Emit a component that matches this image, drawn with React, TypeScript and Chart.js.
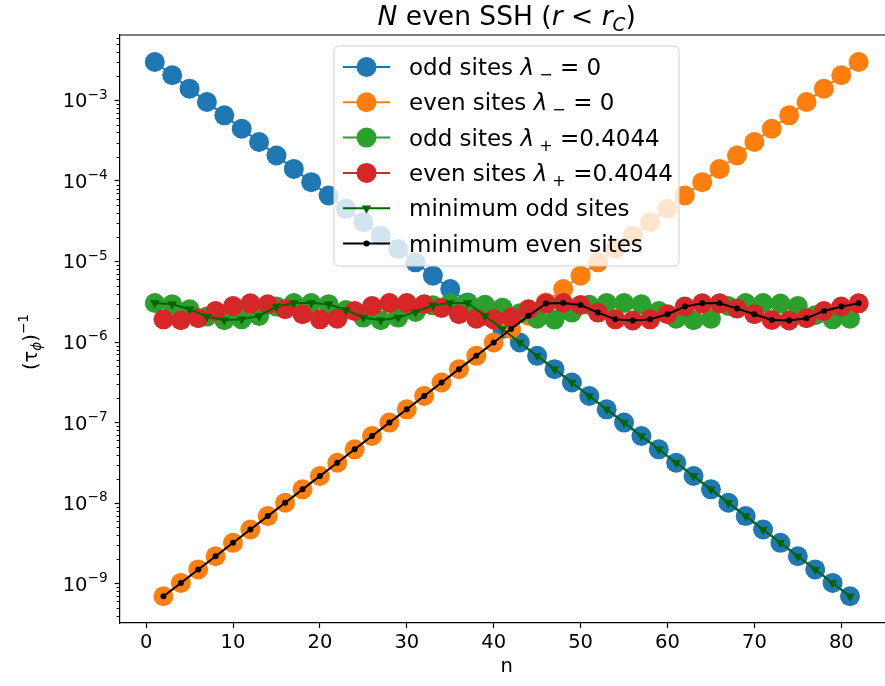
import React, { useEffect, useRef } from "react";
import { Chart, registerables } from "chart.js";
Chart.register(...registerables);

const oddSites = [1, 3, 5, 7, 9, 11, 13, 15, 17, 19, 21, 23, 25, 27, 29, 31, 33, 35, 37, 39, 41, 43, 45, 47, 49, 51, 53, 55, 57, 59, 61, 63, 65, 67, 69, 71, 73, 75, 77, 79, 81];
const evenSites = [2, 4, 6, 8, 10, 12, 14, 16, 18, 20, 22, 24, 26, 28, 30, 32, 34, 36, 38, 40, 42, 44, 46, 48, 50, 52, 54, 56, 58, 60, 62, 64, 66, 68, 70, 72, 74, 76, 78, 80, 82];

const oddLambdaMinus = [3.0e-3, 2.05e-3, 1.40e-3, 9.55e-4, 6.52e-4, 4.45e-4, 3.04e-4, 2.07e-4, 1.41e-4, 9.65e-5, 6.59e-5, 4.50e-5, 3.07e-5, 2.09e-5, 1.43e-5, 9.76e-6, 6.66e-6, 4.55e-6, 3.10e-6, 2.12e-6, 1.45e-6, 9.87e-7, 6.73e-7, 4.60e-7, 3.14e-7, 2.14e-7, 1.46e-7, 9.98e-8, 6.81e-8, 4.65e-8, 3.17e-8, 2.17e-8, 1.48e-8, 1.01e-8, 6.89e-9, 4.70e-9, 3.21e-9, 2.19e-9, 1.50e-9, 1.02e-9, 6.97e-10];
const evenLambdaMinus = [6.97e-10, 1.02e-9, 1.50e-9, 2.19e-9, 3.21e-9, 4.70e-9, 6.89e-9, 1.01e-8, 1.48e-8, 2.17e-8, 3.17e-8, 4.65e-8, 6.81e-8, 9.98e-8, 1.46e-7, 2.14e-7, 3.14e-7, 4.60e-7, 6.73e-7, 9.87e-7, 1.45e-6, 2.12e-6, 3.10e-6, 4.55e-6, 6.66e-6, 9.76e-6, 1.43e-5, 2.09e-5, 3.07e-5, 4.50e-5, 6.59e-5, 9.65e-5, 1.41e-4, 2.07e-4, 3.04e-4, 4.45e-4, 6.52e-4, 9.55e-4, 1.40e-3, 2.05e-3, 3.0e-3];
const oddLambdaPlus = [3.05e-6, 2.94e-6, 2.55e-6, 2.07e-6, 1.86e-6, 1.91e-6, 2.11e-6, 2.75e-6, 3.05e-6, 3.05e-6, 2.95e-6, 2.50e-6, 2.01e-6, 1.86e-6, 2.01e-6, 2.36e-6, 2.85e-6, 3.05e-6, 3.05e-6, 2.90e-6, 2.67e-6, 2.27e-6, 1.95e-6, 1.90e-6, 2.32e-6, 2.90e-6, 3.05e-6, 3.05e-6, 2.94e-6, 2.43e-6, 1.95e-6, 1.86e-6, 1.95e-6, 2.80e-6, 3.05e-6, 3.05e-6, 3.00e-6, 2.80e-6, 2.15e-6, 1.91e-6, 1.95e-6];
const evenLambdaPlus = [1.91e-6, 1.86e-6, 1.97e-6, 2.43e-6, 2.80e-6, 3.02e-6, 2.94e-6, 2.55e-6, 2.21e-6, 1.91e-6, 1.95e-6, 2.43e-6, 2.80e-6, 3.05e-6, 3.05e-6, 2.94e-6, 2.65e-6, 2.21e-6, 1.95e-6, 1.91e-6, 2.01e-6, 2.55e-6, 3.00e-6, 3.05e-6, 2.88e-6, 2.32e-6, 1.91e-6, 1.85e-6, 1.91e-6, 2.21e-6, 2.75e-6, 3.02e-6, 3.02e-6, 2.60e-6, 2.21e-6, 1.88e-6, 1.85e-6, 1.97e-6, 2.43e-6, 2.75e-6, 3.02e-6];

const xTicks = [0, 10, 20, 30, 40, 50, 60, 70, 80];
const yTickExponents = [-9, -8, -7, -6, -5, -4, -3];

type Seg = { t: string; it?: boolean; sub?: boolean; sup?: boolean };

const legendTexts: Seg[][] = [
  [{ t: "odd sites " }, { t: "λ", it: true }, { t: " −", sub: true }, { t: " = 0" }],
  [{ t: "even sites " }, { t: "λ", it: true }, { t: " −", sub: true }, { t: " = 0" }],
  [{ t: "odd sites " }, { t: "λ", it: true }, { t: " +", sub: true }, { t: " =0.4044" }],
  [{ t: "even sites " }, { t: "λ", it: true }, { t: " +", sub: true }, { t: " =0.4044" }],
  [{ t: "minimum odd sites" }],
  [{ t: "minimum even sites" }],
];
const titleSegs: Seg[] = [
  { t: "N", it: true }, { t: " even SSH (" }, { t: "r", it: true }, { t: " < " }, { t: "r", it: true }, { t: "C", it: true, sub: true }, { t: ")" },
];
const yLabelSegs: Seg[] = [{ t: "(τ" }, { t: "ϕ", it: true, sub: true }, { t: ")" }, { t: "−1", sup: true }];

const FONT = '"DejaVu Sans"';

function fontFor(s: Seg, size: number) {
  const sz = s.sub || s.sup ? size * 0.7 : size;
  return `${s.it ? "italic " : ""}${sz}px ${FONT}`;
}
function segWidth(ctx: CanvasRenderingContext2D, segs: Seg[], size: number) {
  let w = 0;
  for (const s of segs) {
    ctx.font = fontFor(s, size);
    w += ctx.measureText(s.t).width;
  }
  return w;
}
function drawSegs(ctx: CanvasRenderingContext2D, segs: Seg[], x: number, y: number, size: number, align: string) {
  const w = segWidth(ctx, segs, size);
  let cx = align === "center" ? x - w / 2 : align === "right" ? x - w : x;
  ctx.textBaseline = "alphabetic";
  ctx.textAlign = "left";
  for (const s of segs) {
    ctx.font = fontFor(s, size);
    const dy = s.sub ? size * 0.22 : s.sup ? -size * 0.45 : 0;
    ctx.fillText(s.t, cx, y + dy);
    cx += ctx.measureText(s.t).width;
  }
}

const decor = {
  id: "decor",
  afterDraw(chart: any) {
    const ctx: CanvasRenderingContext2D = chart.ctx;
    const { left, right, top } = chart.chartArea;
    ctx.save();
    ctx.strokeStyle = "#000";
    ctx.lineWidth = 1.2;
    ctx.beginPath();
    ctx.moveTo(left, top);
    ctx.lineTo(right, top);
    ctx.stroke();
    // minor ticks on log axis
    const ys = chart.scales.y;
    ctx.lineWidth = 1;
    for (let e = -10; e <= -2; e++) {
      for (let m = 2; m <= 9; m++) {
        const v = m * Math.pow(10, e);
        if (v < ys.min || v > ys.max) continue;
        const py = Math.round(ys.getPixelForValue(v)) + 0.5;
        ctx.beginPath();
        ctx.moveTo(left - 3, py);
        ctx.lineTo(left, py);
        ctx.stroke();
      }
    }
    ctx.fillStyle = "#000";
    // y tick labels with mathtext-like superscripts
    for (const t of ys.ticks) {
      const e = Math.round(Math.log10(t.value));
      const py = ys.getPixelForValue(t.value);
      drawSegs(ctx, [{ t: "10" }, { t: "−" + Math.abs(e), sup: true }], left - 12, py + 7, 19.5, "right");
    }
    // title
    const cxMid = 506.7;
    drawSegs(ctx, titleSegs, cxMid, 25, 26.5, "center");
    // x label
    ctx.font = `19.5px ${FONT}`;
    ctx.textAlign = "center";
    ctx.textBaseline = "alphabetic";
    ctx.fillText("n", cxMid, 672);
    // y label
    ctx.save();
    ctx.translate(37, 342);
    ctx.rotate(-Math.PI / 2);
    drawSegs(ctx, yLabelSegs, 0, 0, 19.5, "center");
    ctx.restore();
    // legend
    const bx = 334, by = 46, bw = 345, bh = 220, r = 5;
    ctx.beginPath();
    ctx.moveTo(bx + r, by);
    ctx.arcTo(bx + bw, by, bx + bw, by + bh, r);
    ctx.arcTo(bx + bw, by + bh, bx, by + bh, r);
    ctx.arcTo(bx, by + bh, bx, by, r);
    ctx.arcTo(bx, by, bx + bw, by, r);
    ctx.closePath();
    ctx.fillStyle = "rgba(255,255,255,0.8)";
    ctx.fill();
    ctx.strokeStyle = "#d0d0d0";
    ctx.lineWidth = 1;
    ctx.stroke();
    const ds = chart.data.datasets;
    for (let i = 0; i < ds.length; i++) {
      const d = ds[i];
      const cy = 67 + i * 35.3;
      ctx.strokeStyle = d.borderColor;
      ctx.lineWidth = 2;
      ctx.beginPath();
      ctx.moveTo(343, cy);
      ctx.lineTo(390, cy);
      ctx.stroke();
      ctx.fillStyle = d.pointBackgroundColor;
      const mx = 366.5;
      ctx.beginPath();
      if (d.pointStyle === "triangle") {
        const rr = d.pointRadius;
        ctx.moveTo(mx, cy + rr);
        ctx.lineTo(mx - rr * 0.866, cy - rr * 0.5);
        ctx.lineTo(mx + rr * 0.866, cy - rr * 0.5);
        ctx.closePath();
      } else {
        ctx.arc(mx, cy, d.pointRadius, 0, Math.PI * 2);
      }
      ctx.fill();
      ctx.fillStyle = "#000";
      drawSegs(ctx, legendTexts[i], 409, cy + 8, 23, "left");
    }
    ctx.restore();
  },
};

function pts(xs: number[], ys: number[]) {
  return xs.map((x, i) => ({ x, y: ys[i] }));
}

export default function App() {
  const ref = useRef<HTMLCanvasElement>(null);
  useEffect(() => {
    const minOdd = oddLambdaMinus.map((v, i) => Math.min(v, oddLambdaPlus[i]));
    const minEven = evenLambdaMinus.map((v, i) => Math.min(v, evenLambdaPlus[i]));
    const mk = (label: string, data: any, color: string, order: number, extra: any = {}) => ({
      label,
      data,
      borderColor: color,
      backgroundColor: color,
      pointBackgroundColor: color,
      pointBorderWidth: 0,
      pointRadius: 10,
      pointHoverRadius: 10,
      pointStyle: "circle",
      borderWidth: 2,
      tension: 0,
      order,
      ...extra,
    });
    const chart = new Chart(ref.current!, {
      type: "line",
      data: {
        datasets: [
          mk("odd sites λ− = 0", pts(oddSites, oddLambdaMinus), "#1f77b4", 6),
          mk("even sites λ− = 0", pts(evenSites, evenLambdaMinus), "#ff7f0e", 5),
          mk("odd sites λ+ =0.4044", pts(oddSites, oddLambdaPlus), "#2ca02c", 4),
          mk("even sites λ+ =0.4044", pts(evenSites, evenLambdaPlus), "#d62728", 3),
          mk("minimum odd sites", pts(oddSites, minOdd), "#006400", 2, { pointStyle: "triangle", rotation: 180, pointRadius: 5.5, pointHoverRadius: 5.5 }),
          mk("minimum even sites", pts(evenSites, minEven), "#000000", 1, { pointRadius: 3, pointHoverRadius: 3 }),
        ] as any,
      },
      options: {
        responsive: false,
        animation: false,
        events: [],
        layout: { autoPadding: false, padding: { top: 35, right: 0, left: 0, bottom: 0 } },
        plugins: { legend: { display: false }, tooltip: { enabled: false }, title: { display: false } },
        scales: {
          x: {
            type: "linear",
            min: -3.05,
            max: 85.03,
            afterBuildTicks: (s: any) => {
              s.ticks = xTicks.map((v) => ({ value: v }));
            },
            afterFit: (s: any) => {
              s.height = 63;
            },
            ticks: { font: { family: "DejaVu Sans", size: 19.5 }, color: "#000", padding: 3, maxRotation: 0, autoSkip: false },
            grid: { display: true, drawOnChartArea: false, drawTicks: true, tickLength: 5, tickColor: "#000", tickWidth: 1.2 },
            border: { display: true, color: "#000", width: 1.2 },
          },
          y: {
            type: "logarithmic",
            min: Math.pow(10, -9.489),
            max: Math.pow(10, -2.188),
            afterBuildTicks: (s: any) => {
              s.ticks = yTickExponents.map((e) => ({ value: Math.pow(10, e) }));
            },
            afterFit: (s: any) => {
              s.width = 119.6;
            },
            ticks: {
              display: false,
              autoSkip: false,
            },
            grid: { display: true, drawOnChartArea: false, drawTicks: true, tickLength: 5, tickColor: "#000", tickWidth: 1.2 },
            border: { display: true, color: "#000", width: 1.2 },
          },
        },
      },
      plugins: [decor],
    });
    return () => chart.destroy();
  }, []);
  return (
    <div style={{ position: "fixed", left: 0, top: 0, width: 885, height: 686, overflow: "hidden", background: "#fff" }}>
      <canvas ref={ref} width={885} height={686} style={{ display: "block", width: 885, height: 686 }} />
    </div>
  );
}
